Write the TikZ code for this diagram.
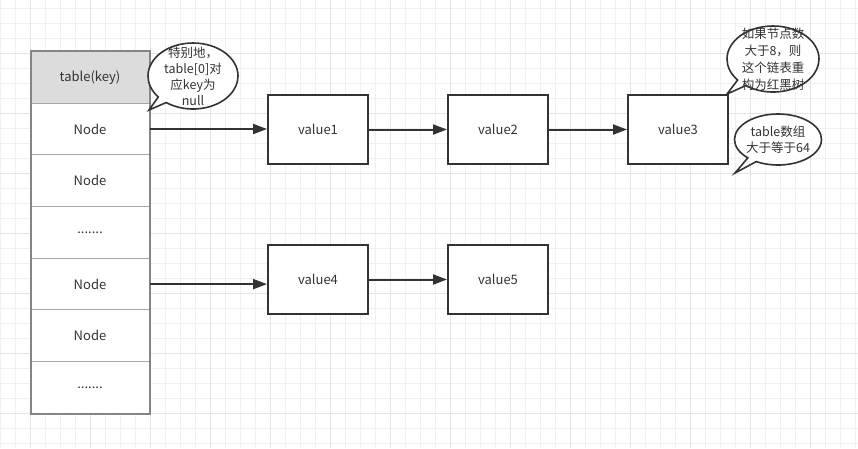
\documentclass[tikz,border=0pt]{standalone}
\usepackage{fontspec}
\setmainfont{Noto Sans CJK SC}
\usetikzlibrary{arrows.meta, positioning, shapes.callouts}
\definecolor{ink}{HTML}{333333}
\definecolor{frame}{HTML}{858585}
\definecolor{sep}{HTML}{A6A6A6}
\definecolor{hdr}{HTML}{DCDCDC}
\definecolor{gridmin}{HTML}{F0F0F0}
\definecolor{gridmaj}{HTML}{E4E4E4}

\tikzset{
  cell/.style={draw=sep, line width=1pt, minimum width=118pt, minimum height=51.7pt,
    inner sep=0pt, text=ink, font=\fontsize{13}{15}\selectfont},
  valbox/.style={draw=ink, line width=2pt, fill=white, minimum width=100pt, minimum height=69pt,
    text=ink, font=\fontsize{13}{15}\selectfont},
  link/.style={draw=ink, line width=2pt, -{Triangle[length=14pt,width=10pt]}},
  bubble/.style={ellipse callout, draw=ink, line width=1.6pt, fill=white, inner sep=0pt,
    callout pointer arc=14},
  note/.style={align=center, text=ink, inner sep=0pt}
}

\begin{document}
\begin{tikzpicture}[x=1pt, y=-1pt]
  \useasboundingbox (0,0) rectangle (858,448);
  \fill[white] (0,0) rectangle (858,448);
  % background grid
  \foreach \x in {0.5,15.5,...,858} \draw[gridmin, line width=1pt] (\x,0) -- (\x,448);
  \foreach \y in {8,23,...,448} \draw[gridmin, line width=1pt] (0,\y) -- (858,\y);
  \foreach \x in {30.5,90.5,...,858} \draw[gridmaj, line width=1pt] (\x,0) -- (\x,448);
  \foreach \y in {53,113,...,448} \draw[gridmaj, line width=1pt] (0,\y) -- (858,\y);

  % the table
  \node[cell, fill=hdr] (key) at (90,77.3) {table(key)};
  \node[cell, fill=white] (n1) at (90,129) {Node};
  \node[cell, fill=white] (n2) at (90,180.7) {Node};
  \node[cell, fill=white] (n3) at (90,232.4) {.......};
  \node[cell, fill=white] (n4) at (90,284.1) {Node};
  \node[cell, fill=white] (n5) at (90,335.8) {Node};
  \node[cell, fill=white] (n6) at (90,387.5) {.......};
  \draw[frame, line width=2pt] (key.north west) rectangle (n6.south east);

  % linked lists
  \node[valbox] (v1) at (318,129.5) {value1};
  \node[valbox] (v2) at (498,129.5) {value2};
  \node[valbox] (v3) at (678,129.5) {value3};
  \node[valbox] (v4) at (318,279.5) {value4};
  \node[valbox] (v5) at (498,279.5) {value5};

  \draw[link] (n1.east) -- (n1.east -| v1.west);
  \draw[link] (v1) -- (v2);
  \draw[link] (v2) -- (v3);
  \draw[link] (n4.east) -- (n4.east -| v4.west);
  \draw[link] (v4) -- (v5);

  % notes
  \coordinate (p1) at (149,110);
  \coordinate (p2) at (727,94);
  \coordinate (p3) at (735,173);
  \node[bubble, minimum width=90pt, minimum height=66pt, callout absolute pointer={(p1)},
    label={[note, font=\fontsize{12.5}{16}\selectfont]center:特别地，\\table[0]对\\应key为\\null}]
    (c1) at (193,76) {};
  \node[bubble, minimum width=92pt, minimum height=66pt, callout absolute pointer={(p2)},
    label={[note, font=\fontsize{12.5}{17}\selectfont]center:如果节点数\\大于8，则\\这个链表重\\构为红黑树}]
    (c2) at (773,59) {};
  \node[bubble, minimum width=87pt, minimum height=51pt, callout absolute pointer={(p3)},
    label={[note, font=\fontsize{12.5}{15.5}\selectfont]center:table数组\\大于等于64}]
    (c3) at (778,139.5) {};
\end{tikzpicture}
\end{document}
